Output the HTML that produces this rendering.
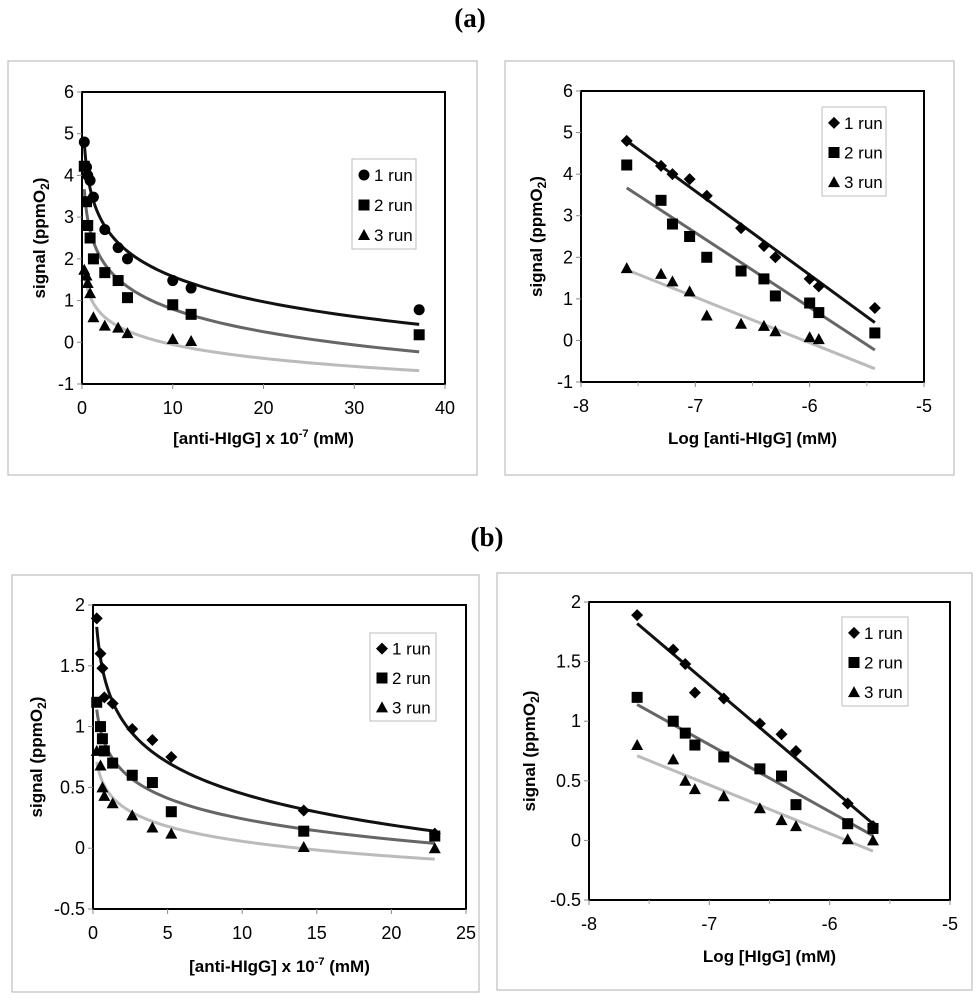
<!DOCTYPE html>
<html><head><meta charset="utf-8">
<style>
html,body{margin:0;padding:0;background:#fff;}
body{width:980px;height:1000px;position:relative;overflow:hidden;font-family:"Liberation Sans",Arial,sans-serif;}
.ttl{position:absolute;font-family:"Liberation Serif",serif;font-weight:bold;font-size:27px;line-height:30px;transform:translateX(-50%);}
svg{position:absolute;left:0;top:0;}
</style></head>
<body>
<div class="ttl" style="left:470px;top:3px;">(a)</div>
<div class="ttl" style="left:487px;top:522px;">(b)</div>
<svg id="fig" width="980" height="1000"></svg>
<script>
// ---- Data (a) ----
const aLogX = [-7.6,-7.3,-7.2,-7.05,-6.9,-6.6,-6.4,-6.3,-6.0,-5.92,-5.43];
const aRun1 = [4.8,4.2,4.0,3.88,3.48,2.7,2.27,2.0,1.48,1.3,0.78];
const aRun2 = [4.22,3.37,2.8,2.5,2.0,1.67,1.48,1.07,0.9,0.67,0.18];
const aRun3LogX = [-7.6,-7.3,-7.2,-7.05,-6.9,-6.6,-6.4,-6.3,-6.0,-5.92];
const aRun3 = [1.74,1.6,1.42,1.18,0.6,0.4,0.35,0.22,0.08,0.03];
const aFitStart = [4.8,3.67,1.7];
const aFitEnd = [0.43,-0.23,-0.68];
const aYTicks = ["-1","0","1","2","3","4","5","6"];
const aLinXTicks = ["0","10","20","30","40"];
const aLogXTicks = ["-8","-7","-6","-5"];
// ---- Data (b) ----
const bLogX = [-7.6,-7.3,-7.2,-7.12,-6.88,-6.58,-6.4,-6.28,-5.85,-5.64];
const bRun1 = [1.89,1.6,1.48,1.24,1.19,0.98,0.89,0.75,0.31,0.12];
const bRun2 = [1.2,1.0,0.9,0.8,0.7,0.6,0.54,0.3,0.14,0.1];
const bRun3 = [0.8,0.68,0.5,0.43,0.37,0.27,0.17,0.12,0.01,0.0];
const bFitStart = [1.82,1.14,0.71];
const bFitEnd = [0.14,0.04,-0.09];
const bYTicks = ["-0.5","0","0.5","1","1.5","2"];
const bLinXTicks = ["0","5","10","15","20","25"];
const bLogXTicks = ["-8","-7","-6","-5"];

const NS="http://www.w3.org/2000/svg";
const svg=document.getElementById('fig');
function mk(tag,attrs,parent){const e=document.createElementNS(NS,tag);for(const k in attrs)e.setAttribute(k,attrs[k]);(parent||svg).appendChild(e);return e;}
const lineCols=['#111','#666','#bbb'];

function marker(g,shape,cx,cy){
  let e;
  if(shape==='circle'){e=mk('circle',{cx:cx,cy:cy,r:5.5,fill:'#000'},g);}
  else if(shape==='square'){e=mk('rect',{x:cx-5.5,y:cy-5.5,width:11,height:11,fill:'#000'},g);}
  else if(shape==='diamond'){e=mk('polygon',{points:`${cx},${cy-6} ${cx+6},${cy} ${cx},${cy+6} ${cx-6},${cy}`,fill:'#000'},g);}
  else {e=mk('polygon',{points:`${cx},${cy-6} ${cx+6},${cy+5} ${cx-6},${cy+5}`,fill:'#000'},g);}
  
  
}

function panel(o){
  const g=mk('g',{});
  
  
  const fr=mk('rect',{x:o.fx,y:o.fy,width:o.fw,height:o.fh,fill:'#fff',stroke:'#bdbdbd','stroke-width':1.2},g);
  
  
  const X=v=>o.L+(v-o.xmin)/(o.xmax-o.xmin)*(o.R-o.L);
  const Y=v=>o.B-(v-o.ymin)/(o.ymax-o.ymin)*(o.B-o.T);
  const pr=mk('rect',{x:o.L,y:o.T,width:o.R-o.L,height:o.B-o.T,fill:'none',stroke:'#000','stroke-width':2},g);
  
  
  o.yTicks.forEach(t=>{const v=parseFloat(t),y=Y(v);
    mk('line',{x1:o.L-5,x2:o.L,y1:y,y2:y,stroke:'#888','stroke-width':1},g);
    const tx=mk('text',{x:o.L-8,y:y+6,'text-anchor':'end','font-size':18,fill:'#000'},g);tx.textContent=t;
    
    });
  o.xTicks.forEach(t=>{const v=parseFloat(t),x=X(v);
    mk('line',{x1:x,x2:x,y1:o.B,y2:o.B+5,stroke:'#888','stroke-width':1},g);
    const tx=mk('text',{x:x,y:o.B+30,'text-anchor':'middle','font-size':18,fill:'#000'},g);tx.textContent=t;
    
    });
  if(o.minor){for(let i=0;i<o.xTicks.length-1;i++){const v=(parseFloat(o.xTicks[i])+parseFloat(o.xTicks[i+1]))/2,x=X(v);
    mk('line',{x1:x,x2:x,y1:o.B,y2:o.B+4,stroke:'#aaa','stroke-width':1},g);}}
  const xt=mk('text',{x:(o.L+o.R)/2,y:o.xtY,'text-anchor':'middle','font-size':17,'font-weight':'bold'},g);
  xt.innerHTML=o.xTitle;
  
  
  const yc=(o.T+o.B)/2;
  const yt=mk('text',{x:o.ytX,y:yc,'text-anchor':'middle','font-size':17,'font-weight':'bold',transform:`rotate(-90 ${o.ytX} ${yc})`},g);
  yt.innerHTML='signal (ppmO<tspan font-size="12" dy="4">2</tspan><tspan dy="-4">)</tspan>';
  
  
  for(let s=0;s<3;s++){
    const a=o.fitStart[s],b=(o.fitEnd[s]-o.fitStart[s])/(o.logEnd-o.logStart);
    let pts=[];
    if(o.linear){const x0=Math.pow(10,o.logStart+7),x1=Math.pow(10,o.logEnd+7);
      for(let i=0;i<=120;i++){const x=x0*Math.pow(x1/x0,i/120);const lv=Math.log10(x)-7;pts.push(X(x)+','+Y(a+b*(lv-o.logStart)));}}
    else{pts.push(X(o.logStart)+','+Y(a));pts.push(X(o.logEnd)+','+Y(o.fitEnd[s]));}
    const pl=mk('polyline',{points:pts.join(' '),fill:'none',stroke:lineCols[s],'stroke-width':3},g);
    
    
  }
  o.series.forEach((sr,si)=>{sr.lx.forEach((lv,i)=>{const xv=o.linear?Math.pow(10,lv+7):lv;marker(g,sr.shape,X(xv),Y(sr.y[i]));});});
  const lg=mk('g',{},g);
  
  
  mk('rect',{x:o.lx,y:o.ly,width:o.lw,height:o.lh,fill:'#fff',stroke:'#bdbdbd','stroke-width':1},lg);
  o.series.forEach((sr,si)=>{const cy=o.ly+o.lh*(si+0.5)/3+1;
    marker(lg,sr.shape,o.lx+12,cy);
    const t=mk('text',{x:o.lx+22,y:cy+6,'font-size':17},lg);t.textContent=(si+1)+' run';
    
    });
}

panel({name:'panel-a-linear',fx:8,fy:61,fw:469,fh:414,L:82,R:445,T:92,B:384,xmin:0,xmax:40,ymin:-1,ymax:6,
  yTicks:aYTicks,xTicks:aLinXTicks,linear:true,logStart:-7.6,logEnd:-5.43,fitStart:aFitStart,fitEnd:aFitEnd,
  xTitle:'[anti-HIgG] x 10<tspan font-size="11" dy="-7">-7</tspan><tspan dy="7"> (mM)</tspan>',xtY:444,ytX:45,
  series:[{shape:'circle',lx:aLogX,y:aRun1},{shape:'square',lx:aLogX,y:aRun2},{shape:'triangle',lx:aRun3LogX,y:aRun3}],
  lx:352,ly:159,lw:64,lh:90});
panel({name:'panel-a-log',fx:505,fy:61,fw:449,fh:414,L:581,R:924,T:91,B:382,xmin:-8,xmax:-5,ymin:-1,ymax:6,
  yTicks:aYTicks,xTicks:aLogXTicks,minor:true,linear:false,logStart:-7.6,logEnd:-5.43,fitStart:aFitStart,fitEnd:aFitEnd,
  xTitle:'Log [anti-HIgG] (mM)',xtY:444,ytX:542,
  series:[{shape:'diamond',lx:aLogX,y:aRun1},{shape:'square',lx:aLogX,y:aRun2},{shape:'triangle',lx:aRun3LogX,y:aRun3}],
  lx:822,ly:107,lw:64,lh:89});
panel({name:'panel-b-linear',fx:12,fy:575,fw:467,fh:417,L:93,R:466,T:605,B:909,xmin:0,xmax:25,ymin:-0.5,ymax:2,
  yTicks:bYTicks,xTicks:bLinXTicks,linear:true,logStart:-7.6,logEnd:-5.64,fitStart:bFitStart,fitEnd:bFitEnd,
  xTitle:'[anti-HIgG] x 10<tspan font-size="11" dy="-7">-7</tspan><tspan dy="7"> (mM)</tspan>',xtY:972,ytX:42,
  series:[{shape:'diamond',lx:bLogX,y:bRun1},{shape:'square',lx:bLogX,y:bRun2},{shape:'triangle',lx:bLogX,y:bRun3}],
  lx:370,ly:633,lw:66,lh:88});
panel({name:'panel-b-log',fx:497,fy:573,fw:475,fh:417,L:589,R:950,T:602,B:900,xmin:-8,xmax:-5,ymin:-0.5,ymax:2,
  yTicks:bYTicks,xTicks:bLogXTicks,minor:true,linear:false,logStart:-7.6,logEnd:-5.64,fitStart:bFitStart,fitEnd:bFitEnd,
  xTitle:'Log [HIgG] (mM)',xtY:962,ytX:535,
  series:[{shape:'diamond',lx:bLogX,y:bRun1},{shape:'square',lx:bLogX,y:bRun2},{shape:'triangle',lx:bLogX,y:bRun3}],
  lx:842,ly:617,lw:66,lh:89});
</script>
</body></html>
